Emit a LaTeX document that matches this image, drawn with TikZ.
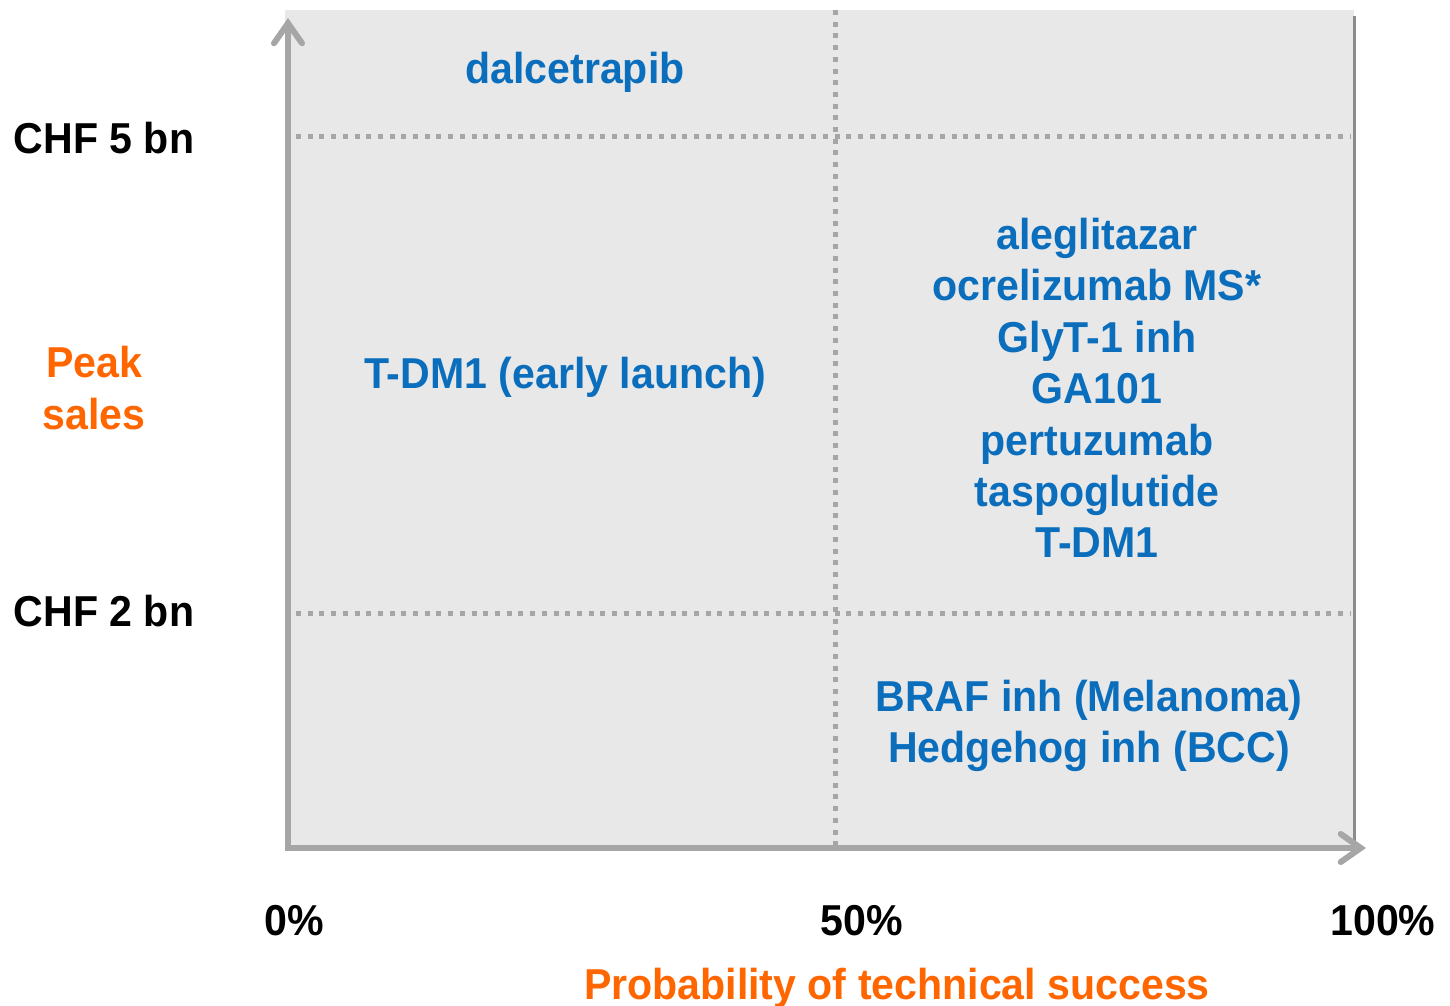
\documentclass[tikz,border=0pt]{standalone}
\usepackage{fontspec}
\setmainfont{Liberation Sans}[FakeStretch=0.95]
\usepackage{xcolor}
\usepackage{tikz}
\usetikzlibrary{arrows.meta}
\definecolor{drugblue}{HTML}{0A6EBD}
\definecolor{axisorange}{HTML}{FF6600}
\definecolor{panelgray}{HTML}{E8E8E8}
\definecolor{axisgray}{HTML}{A6A6A6}
\definecolor{edgegray}{HTML}{8C8C8C}
\tikzset{
	lbl/.style={font=\bfseries\fontsize{12.3}{14.6}\selectfont,align=center,inner sep=0pt},
	drug/.style={lbl,text=drugblue},
	axtitle/.style={lbl,text=axisorange},
	tick/.style={lbl,text=black},
	grid dots/.style={draw=axisgray,line width=0.05cm,dash pattern=on 0.05cm off 0.067cm},
	axis arrow/.style={draw=axisgray,line width=0.06cm,-{Straight Barb[length=0.2cm,width=0.28cm,line cap=round]}}
}

\begin{document}
\begin{tikzpicture}[x=0.01cm,y=-0.01cm]
	\useasboundingbox (0,0) rectangle (1450,1005);
	% panel
	\fill[panelgray] (285,10) rectangle (1354,848);
	\draw[edgegray,line width=0.03cm] (1354,16)--(1354,848);
	% grid lines
	\coordinate (h5l) at (296,136);
	\coordinate (h5r) at (1350,136);
	\coordinate (h2l) at (296,613);
	\coordinate (h2r) at (1350,613);
	\coordinate (vtop) at (835,10);
	\coordinate (vbot) at (835,848);
	\draw[grid dots] (h5l)--(h5r);
	\draw[grid dots] (h2l)--(h2r);
	\draw[grid dots] (vtop)--(vbot);
	% axes
	\coordinate (origin) at (288,848);
	\coordinate (xstart) at (285,848);
	\coordinate (ytip) at (288,18);
	\coordinate (xtip) at (1366,848);
	\draw[axis arrow] (origin)--(ytip);
	\draw[axis arrow] (xstart)--(xtip);
	% axis labels
	\node[tick] (chf5) at (104,138) {CHF 5 bn};
	\node[tick] (chf2) at (104,611) {CHF 2 bn};
	\node[axtitle] (peak) at (94,388) {Peak\\sales};
	\node[tick] (p0) at (294,921) {0\%};
	\node[tick] (p50) at (862,921) {50\%};
	\node[tick] (p100) at (1383,921) {100\%};
	\node[axtitle] (pts) at (897,988) {Probability of technical success};
	% drugs
	\node[drug] (dalc) at (575,72) {dalcetrapib};
	\node[drug] (tdmearly) at (565,377) {T-DM1 (early launch)};
	\node[drug] (hiprob) at (1097,388) {aleglitazar\\ocrelizumab MS*\\GlyT-1 inh\\GA101\\pertuzumab\\taspoglutide\\T-DM1};
	\node[drug] (lowsales) at (1089,726) {BRAF inh (Melanoma)\\Hedgehog inh (BCC)};
\end{tikzpicture}
\end{document}
